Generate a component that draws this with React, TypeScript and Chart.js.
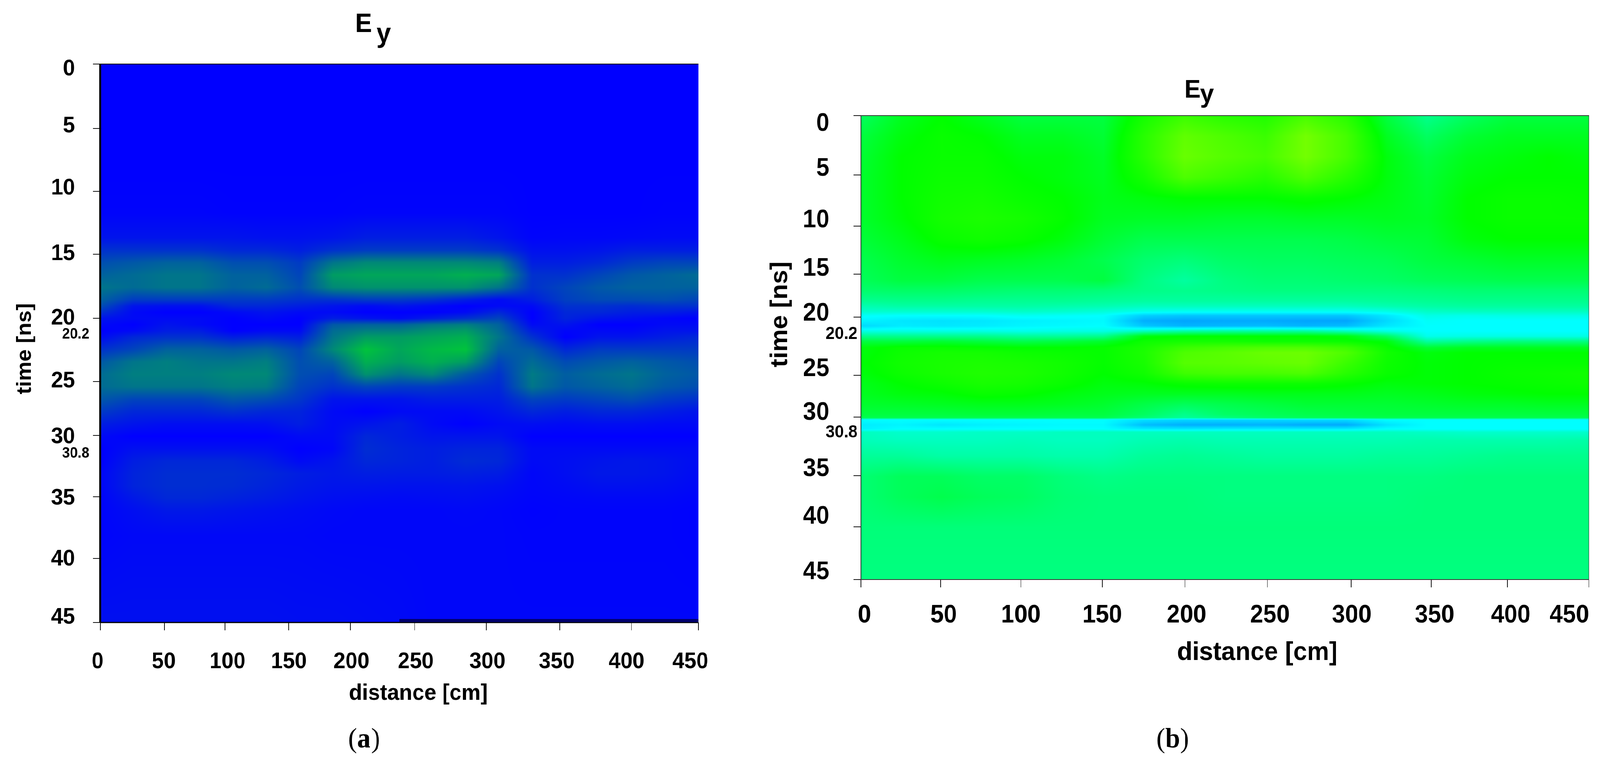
import { useEffect, useRef } from "react";
import { Chart, registerables } from "chart.js";

Chart.register(...registerables);

// shared grid columns, distance on the axis [cm]
const gridDistances = [0, 25, 50, 75, 100, 125, 150, 175, 200, 225, 250, 275, 300, 325, 350, 375, 400, 425, 450];

// the printed axes are not evenly spaced, so each tick has its own spot on the axis
const tickLabelsX = ["0", "50", "100", "150", "200", "250", "300", "350", "400", "450"];
const tickLabelsY = ["0", "5", "10", "15", "20", "25", "30", "35", "40", "45"];

// panel (a)
const markTicksXA = [0, 48.3, 93.9, 141.9, 188.3, 236.6, 290.5, 345.8, 399.7, 450];
const labelTicksXA = [-2, 47.8, 95.8, 141.9, 189, 237.4, 291.3, 343.5, 396, 444];
const markTicksYA = [0, 5.19, 10.26, 15.32, 20.48, 25.58, 29.92, 34.87, 39.84, 45];
const labelTicksYA = [0.41, 5.0, 10.0, 15.3, 20.5, 25.55, 30.05, 35.0, 39.9, 44.6];
const markersA = [{ text: "20.2", at: 21.8 }, { text: "30.8", at: 31.4 }];
const timesA = [0, 8, 12, 14, 15, 16, 17, 18, 19, 19.5, 20, 20.5, 21, 21.5, 22, 23, 24, 25, 26, 27, 28, 29, 30, 31, 32, 33, 34, 35, 36, 38, 45];
const fieldA = [
  [0, 0, 0, 0, 0, 0, 0, 0, 0, 0, 0, 0, 0, 0, 0, 0, 0, 0, 0],
  [0, 0, 0, 0, 0, 0, 0, 0, 0, 0, 0, 0, 0, 0, 0, 0, 0, 0, 0],
  [0.2, 0.2, 0.2, 0.2, 0.1, 0.1, 0.1, 0.1, 0.2, 0.2, 0.2, 0.2, 0.2, 0, 0, 0, 0, 0.1, 0.1],
  [1, 1, 1, 1, 1, 0.8, 0.8, 1, 1.5, 1.5, 1.5, 1.5, 1, 0.2, 0.3, 0.3, 0.4, 0.5, 0.5],
  [2.5, 2.5, 2.5, 2.5, 2, 2, 1.5, 2.5, 3, 3, 3, 3, 2.5, 0.8, 0.8, 1, 1.5, 1.5, 1.5],
  [4, 4.5, 5, 5, 4, 4, 3, 6, 7, 7, 7, 7, 6.5, 1.5, 1.5, 2, 3, 3.5, 3.5],
  [5, 5.5, 6, 6, 5, 5, 3.5, 8, 8.5, 8.5, 8.5, 9, 8.5, 2.5, 2.5, 3.5, 4.5, 5, 5.5],
  [6, 5.5, 6, 6, 5, 5.5, 4, 7, 7.5, 7.5, 7.5, 7.5, 6, 2.5, 3.5, 4.5, 5, 5, 5],
  [5, 3, 3, 3, 3, 3, 2.5, 2.5, 3, 3, 2.5, 1.5, 0.5, 1.5, 3.2, 3.8, 3.8, 4, 3.5],
  [4, 1, 0.8, 0.8, 2, 2, 1.5, 1, 0.5, 1, 0.5, 0, 0.5, 0.5, 2.5, 2.5, 2.2, 2.5, 2.5],
  [2.5, 0.5, 0, 0, 0.5, 1, 0.5, 0.5, 0, 0, 0, 0.5, 2, 0, 2, 2, 1.5, 1.5, 1],
  [1, 0.5, 0.5, 0.5, 0, 0.5, 0, 1.5, 1, 0.5, 1.5, 2.5, 3.5, 0, 1.8, 1, 0.7, 0.3, 0],
  [0.5, 0, 1, 0.5, 0, 0, 0, 4.5, 5, 5, 6, 6.5, 5, 0.5, 1, 0, 0, 0.5, 0.5],
  [0, 0.5, 1.5, 1.5, 0, 0.5, 0.5, 5.5, 6.5, 6.5, 7.5, 8, 5.5, 1.5, 0.3, 0.5, 0.4, 1, 1],
  [0.5, 2, 2.5, 2.5, 1.5, 2, 1.5, 6, 8, 8, 8.5, 9, 6, 2.5, 0, 1, 1, 1.5, 2],
  [2.5, 3.5, 5, 5, 4.5, 5, 3.5, 7, 10, 8.5, 9.5, 10, 5, 4.5, 2, 3, 3, 3, 3],
  [4.5, 6, 6.5, 6, 6, 6.5, 4, 5, 9, 8, 9, 8, 3.5, 5.5, 3.8, 4.5, 5, 4.5, 4],
  [5.5, 6.5, 6.5, 6.5, 7, 7, 4, 3.5, 7.5, 6, 7, 4.5, 2.5, 6.3, 4.8, 5.5, 6, 5, 4.5],
  [5.5, 6, 6, 6, 6.5, 6.3, 3.5, 2.5, 3.5, 3, 3, 2.5, 2, 6, 4.5, 5, 5.5, 4.5, 4],
  [4.5, 3.5, 3.5, 3.5, 4.5, 4, 2.8, 1, 1, 1, 1.5, 1.5, 1.5, 3.5, 3, 3.5, 4, 3, 2.5],
  [3, 2, 2, 2, 2.5, 2, 1.8, 0.5, 0, 0.5, 0.5, 0.5, 1, 2, 1.5, 2, 2, 1.5, 1],
  [1.5, 1, 0.7, 0.7, 0.7, 0.8, 1.5, 0.5, 1, 1.5, 0.5, 0, 0.5, 0.7, 0.5, 0.7, 0.7, 0.5, 0.5],
  [0.5, 0, 0, 0, 0, 0, 0.5, 0.5, 2, 1.5, 1, 1, 1, 0, 0, 0, 0, 0, 0],
  [0, 0.8, 0.8, 0.8, 0.8, 0.7, 0, 0.3, 2.3, 1.8, 1.5, 1.8, 1.8, 0.5, 0.5, 0.5, 0.5, 0.5, 0.5],
  [0, 1.5, 2, 2, 2, 1.5, 0.5, 1, 2, 1.8, 1.5, 2.2, 2, 0.5, 0.7, 1, 1.2, 1, 0.6],
  [0.3, 1.8, 2.3, 2.3, 2.3, 2, 1.5, 1.2, 1.5, 1.4, 1.4, 1.6, 1.4, 0.3, 0.7, 1.2, 1.2, 1, 0.5],
  [0.3, 1.8, 2.3, 2.3, 2.2, 1.8, 1.3, 1, 1, 0.9, 0.9, 1, 0.8, 0.3, 0.5, 0.8, 0.8, 0.7, 0.4],
  [0.2, 1.2, 2, 2, 1.7, 1.4, 1, 0.7, 0.6, 0.5, 0.6, 0.7, 0.5, 0.2, 0.3, 0.4, 0.4, 0.4, 0.2],
  [0.2, 0.7, 1.2, 1.2, 1, 0.8, 0.6, 0.4, 0.3, 0.3, 0.3, 0.4, 0.3, 0.1, 0.2, 0.2, 0.2, 0.2, 0.1],
  [0.2, 0.4, 0.4, 0.4, 0.4, 0.4, 0.4, 0.3, 0.3, 0.3, 0.3, 0.3, 0.3, 0.2, 0.2, 0.2, 0.2, 0.2, 0.1],
  [0.8, 0.8, 0.8, 0.8, 0.8, 0.8, 0.7, 0.7, 0.6, 0.5, 0.3, 0.3, 0.3, 0.3, 0.3, 0.3, 0.3, 0.3, 0.3],
];

// panel (b)
const markTicksXB = [0, 49.3, 98.9, 149.2, 200.4, 251.3, 303.1, 352.4, 399.8, 450];
const labelTicksXB = [2.2, 51.2, 98.9, 149.2, 201.3, 252.8, 303.4, 354.6, 401.7, 437.9];
const markTicksYB = [0, 5.76, 10.72, 15.38, 19.55, 25.19, 29.24, 34.92, 39.88, 45];
const labelTicksYB = [0.8, 5.17, 10.17, 14.86, 19.2, 24.6, 28.85, 34.3, 38.9, 44.3];
const markersB = [{ text: "20.2", at: 21.2 }, { text: "30.8", at: 30.76 }];
const timesB = [0, 2, 4, 6, 8, 10, 12, 14, 16, 17, 18, 18.5, 19, 19.4, 19.9, 20.4, 20.9, 21.4, 21.9, 22.5, 23, 24, 25, 26, 27, 28, 29, 29.3, 29.5, 30, 30.4, 30.7, 31.5, 33, 35, 37, 40, 45];
const fieldB = [
  [4.5, 5.5, 6, 5.5, 5, 5, 5, 6.5, 7.5, 7, 6.8, 7.8, 7, 5, 3.8, 4.5, 5, 5, 5],
  [5, 5.8, 6.2, 6, 5.5, 5.5, 5.2, 7, 8.5, 8, 7.5, 9, 7.8, 5.5, 4.5, 5.2, 5.5, 5.5, 5.5],
  [5.2, 6, 6.2, 6.2, 5.8, 5.8, 5.4, 7, 8.7, 8.2, 7.8, 9, 7.8, 5.8, 5, 5.6, 5.8, 6, 5.8],
  [5.3, 6, 6.3, 6.3, 6, 5.8, 5.5, 6.5, 8, 7.5, 7, 8, 7, 5.8, 5.2, 5.8, 6, 6, 6],
  [5.3, 6, 6.4, 6.5, 6.2, 6, 5.6, 5.8, 6, 6, 6, 6.2, 6, 5.7, 5.3, 6, 6.2, 6.2, 6.1],
  [5.3, 5.9, 6.5, 6.7, 6.5, 6.1, 5.5, 5.4, 5.4, 5.3, 5.3, 5.4, 5.4, 5.5, 5.4, 6, 6.2, 6.2, 6.2],
  [5.1, 5.6, 6.2, 6.4, 6.2, 5.8, 5.2, 4.8, 4.8, 4.8, 4.8, 4.8, 4.9, 5.1, 5.2, 5.8, 6, 6, 6],
  [4.8, 5.3, 5.6, 5.5, 5.4, 5.2, 4.8, 4.3, 4.1, 4.4, 4.5, 4.5, 4.6, 4.7, 5, 5.2, 5.4, 5.4, 5.4],
  [4.6, 5, 5, 4.8, 4.8, 4.8, 5, 4, 3.5, 4, 4.2, 4.2, 4.3, 4.4, 4.6, 4.7, 4.8, 4.8, 4.8],
  [4.3, 4.4, 4.4, 4.3, 4.2, 4.2, 4.1, 3.9, 3.8, 3.9, 4, 4, 4, 4, 4.1, 4.2, 4.2, 4.2, 4.2],
  [3.7, 3.8, 3.8, 3.7, 3.7, 3.7, 3.6, 3.5, 3.5, 3.5, 3.5, 3.5, 3.5, 3.6, 3.7, 3.8, 3.8, 3.8, 3.8],
  [3.2, 3.4, 3.4, 3.4, 3.4, 3.3, 3.2, 3, 3, 3, 3, 3, 3, 3.2, 3.4, 3.5, 3.5, 3.5, 3.5],
  [2.8, 2.8, 2.8, 2.8, 2.9, 2.8, 2.6, 2.3, 2.2, 2.2, 2.2, 2.2, 2.2, 2.4, 2.9, 3, 3, 3, 3],
  [2.1, 2, 2, 2, 2.2, 2.1, 2, 1, 0.8, 0.8, 0.8, 0.8, 0.8, 1.5, 2.4, 2.3, 2.4, 2.4, 2.4],
  [1.8, 1.5, 1.4, 1.5, 1.7, 1.8, 1.9, 0.3, 0.1, 0.2, 0.2, 0.1, 0.1, 1.2, 2.1, 2, 2, 2, 2],
  [1.2, 1.6, 1.5, 1.6, 1.8, 1.9, 2, 0.8, 0.4, 0.5, 0.6, 0.4, 0.6, 1.5, 2, 2, 2, 2, 2],
  [2.4, 2.4, 2.4, 2.4, 2.3, 2.4, 2.4, 3, 3.4, 3.5, 3.5, 3.5, 3, 2.4, 2, 2, 2, 2, 2],
  [3.8, 3.8, 3.8, 3.8, 3.6, 3.6, 3.8, 5.8, 6, 6, 6, 6, 5.8, 4.5, 2.3, 2.4, 2.4, 2.4, 2.4],
  [5, 5, 5.2, 5, 4.8, 5, 5.3, 6.3, 6.5, 6.5, 6.3, 6.3, 6.2, 5.8, 3.5, 3.8, 4, 4, 4],
  [5.8, 6.2, 6.2, 6.1, 6, 6, 6.1, 6.6, 7.5, 7.8, 8, 8, 7.5, 6.2, 5.2, 5.5, 5.5, 5.5, 5.5],
  [5.8, 6.3, 6.5, 6.5, 6.3, 6.2, 6.1, 6.7, 8, 8.3, 8.7, 8.8, 8, 6.4, 5.8, 6, 6, 6, 6],
  [5.9, 6.4, 6.6, 6.7, 6.6, 6.4, 6.1, 6.6, 8.2, 8.3, 8.5, 8.7, 7.5, 6.3, 5.9, 6, 6.1, 6.1, 6.1],
  [5.8, 6.3, 6.6, 6.8, 6.7, 6.4, 6, 6.4, 7.6, 7.8, 7.8, 8, 7, 6.2, 5.9, 6, 6.2, 6.3, 6.4],
  [5.6, 6, 6.3, 6.6, 6.5, 6.2, 5.8, 5.9, 6.2, 6.3, 6.3, 6.3, 6.1, 5.8, 5.9, 6, 6.1, 6.2, 6.3],
  [5.5, 5.8, 5.9, 6.2, 6.1, 5.8, 5.6, 5.5, 5.5, 5.5, 5.6, 5.6, 5.6, 5.5, 5.6, 5.8, 5.9, 6, 6],
  [5.3, 5.4, 5.5, 5.6, 5.6, 5.5, 5.3, 4.9, 4.6, 4.8, 5, 5.2, 5.2, 5.2, 5.3, 5.4, 5.4, 5.5, 5.5],
  [5, 5, 5, 5.1, 5.1, 5, 5, 4.5, 3.8, 4.4, 4.6, 4.8, 4.9, 5, 5, 5, 5, 5, 5],
  [4.8, 4.8, 4.8, 4.8, 4.8, 4.8, 4.8, 4.2, 3.6, 4, 4.4, 4.6, 4.7, 4.8, 4.8, 4.8, 4.8, 4.8, 4.8],
  [2, 2, 2, 2, 2, 2, 2, 1.4, 1.2, 1.2, 1.2, 1.3, 1.3, 2, 2, 2, 2, 2, 2],
  [1.6, 1.8, 1.5, 1.7, 1.8, 1.9, 1.9, 0.6, 0.3, 0.3, 0.4, 0.2, 0.2, 1.4, 2, 2, 2, 2, 2],
  [1.7, 2, 2, 2, 2, 2, 2, 1.6, 1.5, 1.6, 1.6, 1.6, 1.6, 2, 2, 2, 2, 2, 2],
  [3, 2.8, 2.8, 2.9, 2.9, 3, 3, 3, 3, 3, 3, 3, 3, 3, 2.9, 2.8, 2.8, 2.8, 2.8],
  [3.1, 3, 3, 3, 3.1, 3, 3, 3.2, 3.3, 3.2, 3.2, 3.2, 3.2, 3.2, 3.3, 3.3, 3.3, 3.3, 3.4],
  [3.6, 3.6, 3.4, 3.4, 3.4, 3.3, 3.3, 3.6, 3.7, 3.6, 3.5, 3.5, 3.5, 3.6, 3.6, 3.7, 3.8, 3.8, 3.8],
  [4.2, 4.6, 4.6, 4.4, 4.4, 4.1, 3.9, 4, 4, 4, 4, 4, 4, 4, 4, 4.1, 4.1, 4.1, 4.1],
  [4.2, 4.6, 4.8, 4.6, 4.5, 4.2, 4.1, 4.1, 4.1, 4, 4, 4, 4, 4, 4.1, 4.1, 4.1, 4.1, 4.1],
  [4.1, 4.1, 4.1, 4.1, 4.1, 4.1, 4.1, 4.1, 4.1, 4.1, 4.1, 4.1, 4.1, 4.1, 4.1, 4.1, 4.1, 4.1, 4.1],
  [4, 4, 4, 4, 4, 4, 4, 4, 4, 4, 4, 4, 4, 4, 4, 4, 4, 4, 4],
];

type RGB = [number, number, number];
type Stop = [number, RGB];

// colour ramps of the two panels, intensity 0-10
const rampA: Stop[] = [[0, [0, 0, 255]], [10, [0, 195, 60]]];
const rampB: Stop[] = [[0, [0, 160, 255]], [2, [0, 255, 255]], [6, [0, 255, 0]], [9, [115, 255, 0]]];

const colorAt = (ramp: Stop[], v: number): RGB => {
  for (let i = 1; i < ramp.length; i++) {
    if (v <= ramp[i][0]) {
      const [v0, c0] = ramp[i - 1];
      const [v1, c1] = ramp[i];
      const f = Math.max(0, (v - v0) / (v1 - v0));
      return [c0[0] + (c1[0] - c0[0]) * f, c0[1] + (c1[1] - c0[1]) * f, c0[2] + (c1[2] - c0[2]) * f];
    }
  }
  return ramp[ramp.length - 1][1];
};

// paints the field between the grid nodes the scatter dataset has placed
const heatmapPlugin = (ramp: Stop[], nCols: number) => ({
  id: "heatmap",
  beforeDatasetsDraw(chart: any) {
    const { ctx, chartArea } = chart;
    const nodes = chart.getDatasetMeta(0).data;
    const values = chart.data.datasets[0].data;
    const nRows = nodes.length / nCols;
    const colPx: number[] = [];
    const rowPx: number[] = [];
    for (let c = 0; c < nCols; c++) colPx.push(nodes[c].x);
    for (let r = 0; r < nRows; r++) rowPx.push(nodes[r * nCols].y);
    const left = Math.round(chartArea.left);
    const top = Math.round(chartArea.top);
    const w = Math.round(chartArea.right) - left;
    const h = Math.round(chartArea.bottom) - top;
    const img = ctx.createImageData(w, h);
    let r = 0;
    for (let py = 0; py < h; py++) {
      const y = top + py + 0.5;
      while (r < nRows - 2 && y > rowPx[r + 1]) r++;
      const fy = (y - rowPx[r]) / (rowPx[r + 1] - rowPx[r]);
      let c = 0;
      for (let px = 0; px < w; px++) {
        const x = left + px + 0.5;
        while (c < nCols - 2 && x > colPx[c + 1]) c++;
        const fx = (x - colPx[c]) / (colPx[c + 1] - colPx[c]);
        const a = values[r * nCols + c].v;
        const b = values[r * nCols + c + 1].v;
        const d = values[(r + 1) * nCols + c].v;
        const e = values[(r + 1) * nCols + c + 1].v;
        const v = (a + (b - a) * fx) * (1 - fy) + (d + (e - d) * fx) * fy;
        const rgb = colorAt(ramp, v);
        const i = (py * w + px) * 4;
        img.data[i] = rgb[0];
        img.data[i + 1] = rgb[1];
        img.data[i + 2] = rgb[2];
        img.data[i + 3] = 255;
      }
    }
    ctx.putImageData(img, left, top);
  },
});

interface PanelText {
  text: string;
  x: number;
  y: number;
  font: string;
  rotate?: boolean;
}

// title, axis names, small markers and the panel letter; x is measured on the page
const textPlugin = (originX: number, texts: PanelText[], markers: { text: string; at: number }[], markerFont: string, markerRight: number) => ({
  id: "panelText",
  afterDraw(chart: any) {
    const { ctx } = chart;
    ctx.save();
    ctx.fillStyle = "#000";
    ctx.textBaseline = "alphabetic";
    texts.forEach((t) => {
      ctx.save();
      ctx.font = t.font;
      ctx.translate(t.x - originX, t.y);
      if (t.rotate) {
        ctx.rotate(-Math.PI / 2);
        ctx.textAlign = "center";
      } else {
        ctx.textAlign = "left";
      }
      ctx.fillText(t.text, 0, 0);
      ctx.restore();
    });
    ctx.font = markerFont;
    ctx.textAlign = "right";
    ctx.textBaseline = "middle";
    markers.forEach((m) => ctx.fillText(m.text, markerRight - originX, chart.scales.y.getPixelForValue(m.at)));
    ctx.restore();
  },
});

// plot frame, (a) has a heavy left and bottom line and no right one
const framePlugin = (frame: "a" | "b") => ({
  id: "frame",
  afterDatasetsDraw(chart: any) {
    const { ctx, chartArea: ca, scales } = chart;
    ctx.save();
    ctx.strokeStyle = frame === "a" ? "#000" : "#333";
    if (frame === "a") {
      ctx.lineWidth = 6;
      ctx.beginPath();
      ctx.moveTo(ca.left, ca.top);
      ctx.lineTo(ca.left, ca.bottom);
      ctx.stroke();
      ctx.lineWidth = 2;
      ctx.beginPath();
      ctx.moveTo(ca.left, ca.top);
      ctx.lineTo(ca.right, ca.top);
      ctx.stroke();
      ctx.lineWidth = 3;
      ctx.beginPath();
      ctx.moveTo(ca.left, ca.bottom);
      ctx.lineTo(ca.right, ca.bottom);
      ctx.stroke();
      ctx.strokeStyle = "#00006e";
      ctx.lineWidth = 8;
      ctx.beginPath();
      ctx.moveTo(scales.x.getPixelForValue(225), ca.bottom - 5);
      ctx.lineTo(ca.right, ca.bottom - 5);
      ctx.stroke();
    } else {
      ctx.lineWidth = 2;
      ctx.strokeRect(ca.left, ca.top, ca.right - ca.left, ca.bottom - ca.top);
    }
    ctx.restore();
  },
});

interface HeatPanelProps {
  left: number;
  width: number;
  plot: { left: number; right: number; top: number; bottom: number };
  times: number[];
  field: number[][];
  ramp: Stop[];
  markX: number[];
  labelX: number[];
  markY: number[];
  labelY: number[];
  tickFont: number;
  labelPadX: number;
  labelPadY: number;
  frame: "a" | "b";
  texts: PanelText[];
  markers: { text: string; at: number }[];
  markerFont: string;
  markerRight: number;
}

const HeatPanel = (props: HeatPanelProps) => {
  const ref = useRef<HTMLCanvasElement>(null);

  useEffect(() => {
    if (!ref.current) return;
    const { plot, times, field, width } = props;
    const tick = 20;
    const labelW = 170;
    const labelH = 140;
    const points = times.flatMap((t, r) => gridDistances.map((d, c) => ({ x: d, y: t, v: field[r][c] })));
    const tickFont = { family: "'Liberation Sans', Arial, sans-serif", size: props.tickFont, weight: "bold" as const };

    const fixed = (w: number | null, h: number | null) => (s: any) => {
      if (w !== null) s.width = w;
      if (h !== null) s.height = h;
      s.paddingLeft = s.paddingRight = s.paddingTop = s.paddingBottom = 0;
    };
    const setTicks = (values: number[]) => (s: any) => {
      s.ticks = values.map((value) => ({ value }));
    };
    const marks = { color: "#000", lineWidth: 2, drawOnChartArea: false, drawTicks: true, tickLength: tick, tickColor: "#111" };

    const chart = new Chart(ref.current, {
      type: "scatter",
      data: { datasets: [{ data: points as any, pointRadius: 0, pointHoverRadius: 0, xAxisID: "x", yAxisID: "y" }] },
      options: {
        animation: false,
        responsive: false,
        devicePixelRatio: 1,
        events: [],
        layout: {
          padding: {
            left: plot.left - props.left - tick - labelW,
            right: props.left + width - plot.right,
            top: plot.top,
            bottom: 1964 - plot.bottom - tick - labelH,
          },
        },
        plugins: { legend: { display: false }, tooltip: { enabled: false } },
        scales: {
          x: {
            type: "linear", axis: "x", position: "bottom", min: 0, max: 450, weight: 0,
            grid: marks, border: { display: false },
            ticks: { display: false, autoSkip: false },
            afterBuildTicks: setTicks(props.markX),
            afterFit: fixed(null, tick),
          },
          xNames: {
            type: "linear", axis: "x", position: "bottom", min: 0, max: 450, weight: 1,
            grid: { display: false }, border: { display: false },
            ticks: {
              autoSkip: false, minRotation: 0, maxRotation: 0, color: "#000", font: tickFont, padding: props.labelPadX,
              callback: (_v: any, i: number) => tickLabelsX[i],
            },
            afterBuildTicks: setTicks(props.labelX),
            afterFit: fixed(null, labelH),
          },
          y: {
            type: "linear", axis: "y", position: "left", min: 0, max: 45, reverse: true, weight: 0,
            grid: marks, border: { display: false },
            ticks: { display: false, autoSkip: false },
            afterBuildTicks: setTicks(props.markY),
            afterFit: fixed(tick, null),
          },
          yNames: {
            type: "linear", axis: "y", position: "left", min: 0, max: 45, reverse: true, weight: 1,
            grid: { display: false }, border: { display: false },
            ticks: {
              autoSkip: false, color: "#000", font: tickFont, padding: props.labelPadY,
              callback: (_v: any, i: number) => tickLabelsY[i],
            },
            afterBuildTicks: setTicks(props.labelY),
            afterFit: fixed(labelW, null),
          },
        },
      } as any,
      plugins: [
        heatmapPlugin(props.ramp, gridDistances.length),
        framePlugin(props.frame),
        textPlugin(props.left, props.texts, props.markers, props.markerFont, props.markerRight),
      ],
    });
    return () => chart.destroy();
  }, []);

  return (
    <canvas
      ref={ref}
      width={props.width}
      height={1964}
      style={{ position: "absolute", left: props.left, top: 0, width: props.width, height: 1964 }}
    />
  );
};

const bold = (size: number) => `bold ${size}px 'Liberation Sans', Arial, sans-serif`;
const serif = (size: number) => `${size}px 'Liberation Serif', 'Times New Roman', serif`;
const serifBold = (size: number) => `bold ${size}px 'Liberation Serif', 'Times New Roman', serif`;

// the browser window stops at 4096 px wide, so the 4310 px layout is squeezed to fit it
const fitWidth = 4096 / 4310;

const App = () => (
  <div
    style={{
      position: "absolute", left: 0, top: 0, width: 4310, height: 1964, background: "#fff",
      transform: `scaleX(${fitWidth})`, transformOrigin: "0 0",
    }}
  >
    <HeatPanel
      left={0}
      width={2040}
      plot={{ left: 270, right: 1881, top: 164, bottom: 1594 }}
      times={timesA}
      field={fieldA}
      ramp={rampA}
      markX={markTicksXA}
      labelX={labelTicksXA}
      markY={markTicksYA}
      labelY={labelTicksYA}
      tickFont={58}
      labelPadX={38}
      labelPadY={40}
      frame="a"
      markers={markersA}
      markerFont={bold(38)}
      markerRight={241}
      texts={[
        { text: "E", x: 957, y: 82, font: bold(68) },
        { text: "y", x: 1014, y: 108, font: bold(70) },
        { text: "time [ns]", x: 83, y: 893, font: bold(56), rotate: true },
        { text: "distance [cm]", x: 940, y: 1792, font: bold(58) },
        { text: "(", x: 938, y: 1914, font: serif(72) },
        { text: "a", x: 962, y: 1914, font: serifBold(72) },
        { text: ")", x: 1000, y: 1914, font: serif(72) },
      ]}
    />
    <HeatPanel
      left={2040}
      width={2270}
      plot={{ left: 2319, right: 4280, top: 296, bottom: 1484 }}
      times={timesB}
      field={fieldB}
      ramp={rampB}
      markX={markTicksXB}
      labelX={labelTicksXB}
      markY={markTicksYB}
      labelY={labelTicksYB}
      tickFont={64}
      labelPadX={26}
      labelPadY={57}
      frame="b"
      markers={markersB}
      markerFont={bold(44)}
      markerRight={2310}
      texts={[
        { text: "E", x: 3191, y: 250, font: bold(64) },
        { text: "y", x: 3233, y: 262, font: bold(66) },
        { text: "time [ns]", x: 2120, y: 805, font: bold(65), rotate: true },
        { text: "distance [cm]", x: 3171, y: 1690, font: bold(67) },
        { text: "(", x: 3115, y: 1914, font: serif(72) },
        { text: "b", x: 3139, y: 1914, font: serifBold(72) },
        { text: ")", x: 3179, y: 1914, font: serif(72) },
      ]}
    />
  </div>
);

export default App;
